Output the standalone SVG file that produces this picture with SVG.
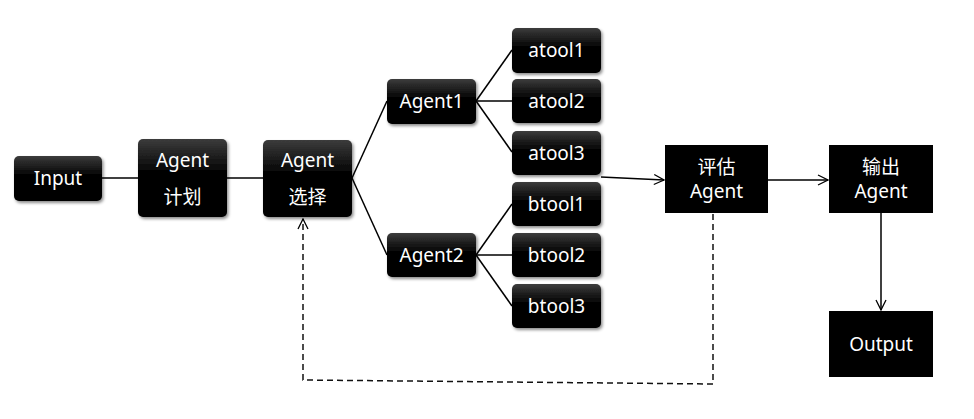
<svg xmlns="http://www.w3.org/2000/svg" width="974" height="419" viewBox="0 0 974 419">
<defs>
<linearGradient id="g" x1="0" y1="0" x2="0" y2="1">
<stop offset="0" stop-color="#3c3c3c"/>
<stop offset="0.45" stop-color="#000"/>
<stop offset="1" stop-color="#000"/>
</linearGradient>
<filter id="sh" x="-20%" y="-20%" width="150%" height="160%">
<feDropShadow dx="1.5" dy="2" stdDeviation="1.5" flood-color="#000" flood-opacity="0.45"/>
</filter>
<marker id="ar" viewBox="0 0 12 12" refX="11" refY="6" markerWidth="12" markerHeight="12" markerUnits="userSpaceOnUse" orient="auto">
<path d="M1,1 L11,6 L1,11" fill="none" stroke="#000" stroke-width="1.3"/>
</marker>
</defs>
<style>
.r{fill:url(#g);filter:url(#sh)}
.s{fill:#000}
.t{fill:#fff;font-family:"Noto Sans","Noto Sans CJK SC",sans-serif;font-size:19px;text-anchor:middle;dominant-baseline:central}
.c{fill:none;stroke:#000;stroke-width:1.5}
.d{fill:none;stroke:#111;stroke-width:1.5;stroke-dasharray:6,4}
</style>
<g id="connectors">
<line class="c" x1="102" y1="178" x2="138" y2="178"/>
<line class="c" x1="227" y1="178" x2="263" y2="178"/>
<line class="c" x1="352" y1="178" x2="387" y2="101"/>
<line class="c" x1="352" y1="178" x2="387" y2="255"/>
<line class="c" x1="476" y1="101" x2="512" y2="50"/>
<line class="c" x1="476" y1="101" x2="512" y2="101"/>
<line class="c" x1="476" y1="101" x2="512" y2="152"/>
<line class="c" x1="476" y1="255" x2="512" y2="204"/>
<line class="c" x1="476" y1="255" x2="512" y2="255"/>
<line class="c" x1="476" y1="255" x2="512" y2="306"/>
<line class="c" x1="601" y1="177" x2="664" y2="180" marker-end="url(#ar)"/>
<line class="c" x1="768" y1="180" x2="828" y2="180" marker-end="url(#ar)"/>
<line class="c" x1="881" y1="213" x2="881" y2="310" stroke="#333" marker-end="url(#ar)"/>
<polyline class="d" points="713,214 713,384 303,380 303,219" marker-end="url(#ar)"/>
</g>
<g id="input"><rect class="r" x="14" y="156" width="88" height="45" rx="5"/><text class="t" x="58" y="178">Input</text></g>
<g id="plan"><rect class="r" x="138" y="139" width="89" height="78" rx="5"/><text class="t" x="182.5" y="160">Agent</text><text class="t" x="182.5" y="197">计划</text></g>
<g id="select"><rect class="r" x="263" y="140" width="89" height="77" rx="5"/><text class="t" x="307.5" y="160">Agent</text><text class="t" x="307.5" y="197">选择</text></g>
<g id="agent1"><rect class="r" x="387" y="79" width="89" height="45" rx="5"/><text class="t" x="431.5" y="101">Agent1</text></g>
<g id="agent2"><rect class="r" x="387" y="233" width="89" height="44" rx="5"/><text class="t" x="431.5" y="255">Agent2</text></g>
<g id="atool1"><rect class="r" x="512" y="28" width="89" height="45" rx="5"/><text class="t" x="556.5" y="50">atool1</text></g>
<g id="atool2"><rect class="r" x="512" y="79" width="89" height="44" rx="5"/><text class="t" x="556.5" y="101">atool2</text></g>
<g id="atool3"><rect class="r" x="512" y="131" width="89" height="44" rx="5"/><text class="t" x="556.5" y="153">atool3</text></g>
<g id="btool1"><rect class="r" x="512" y="182" width="89" height="44" rx="5"/><text class="t" x="556.5" y="204">btool1</text></g>
<g id="btool2"><rect class="r" x="512" y="233" width="89" height="44" rx="5"/><text class="t" x="556.5" y="255">btool2</text></g>
<g id="btool3"><rect class="r" x="512" y="284" width="89" height="44" rx="5"/><text class="t" x="556.5" y="306">btool3</text></g>
<g id="eval"><rect class="s" x="665" y="145" width="103" height="68"/><text class="t" x="716.5" y="167">评估</text><text class="t" x="716.5" y="191">Agent</text></g>
<g id="out-agent"><rect class="s" x="829" y="145" width="104" height="68"/><text class="t" x="881" y="167">输出</text><text class="t" x="881" y="191">Agent</text></g>
<g id="output"><rect class="s" x="829" y="311" width="104" height="66"/><text class="t" x="881" y="344">Output</text></g>
</svg>
